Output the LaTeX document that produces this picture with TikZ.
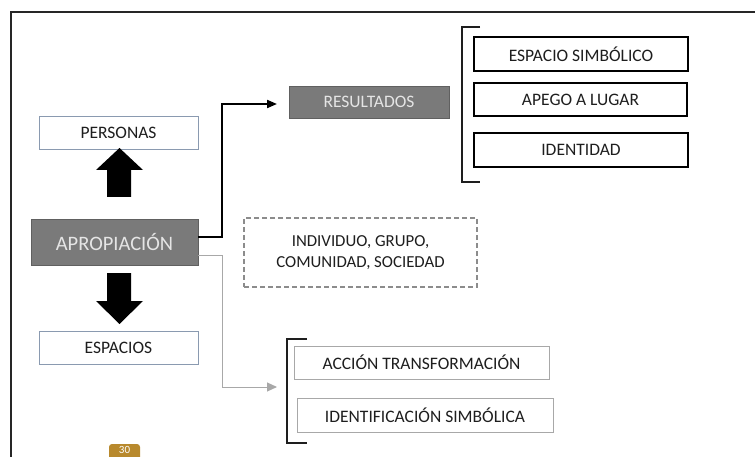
\documentclass[tikz,border=0pt]{standalone}
\usepackage{fontspec}
\setmainfont{Carlito}
\usetikzlibrary{arrows.meta,calc}
\definecolor{boxgray}{HTML}{7A7A7A}
\definecolor{boxgrayd}{HTML}{606060}
\definecolor{bluegray}{HTML}{8A9AB0}
\definecolor{lightgray}{HTML}{A8A8A8}
\definecolor{dashgray}{HTML}{8C8C8C}
\definecolor{txt}{HTML}{1E1E1E}
\definecolor{badge}{HTML}{B8892D}
\begin{document}
\begin{tikzpicture}[x=1pt,y=-1pt,
  every node/.style={inner sep=0pt,outer sep=0pt,text=txt,font=\fontsize{17.5}{21}\selectfont},
  bluebox/.style={draw=bluegray,line width=0.9pt,fill=white},
  graybox/.style={draw=boxgrayd,line width=0.8pt,fill=boxgray,text=white!90!black},
  blackbox/.style={draw=black,line width=1.6pt,fill=white},
  litebox/.style={draw=lightgray,line width=1pt,fill=white},
  dashbox/.style={draw=dashgray,line width=1.2pt,dash pattern=on 5pt off 3pt,align=center,font=\fontsize{16.8}{21}\selectfont},
  blockarrow/.style={fill=black},
  brk/.style={draw=txt,line width=1.2pt},
]
\useasboundingbox (0,0) rectangle (755,457);
\fill[white] (0,0) rectangle (755,457);
% frame
\draw[line width=1.6pt,color=black!85] (11,460) -- (11,12) -- (760,12);

% left column
\node[bluebox,minimum width=159pt,minimum height=33pt] (per) at (118.5,132.5) {PERSONAS};
\node[graybox,minimum width=167pt,minimum height=46pt,font=\fontsize{20.5}{24}\selectfont] (apro) at (114.5,242) {APROPIACIÓN};
\node[bluebox,minimum width=159pt,minimum height=33pt] (esp) at (118.5,347.5) {ESPACIOS};

% block arrows
\fill[blockarrow] (107,197) -- (107,170) -- (96,170) -- (119.5,148) -- (143,170) -- (131,170) -- (131,197) -- cycle;
\fill[blockarrow] (107,273) -- (107,301) -- (96,301) -- (119.5,324) -- (143,301) -- (131,301) -- (131,273) -- cycle;

% resultados group
\node[graybox,minimum width=160pt,minimum height=32pt] (res) at (369,102) {RESULTADOS};
\node[blackbox,minimum width=214pt,minimum height=34pt] (es) at (581,54) {ESPACIO SIMBÓLICO};
\node[blackbox,minimum width=213pt,minimum height=33pt] (al) at (580.5,99.5) {APEGO A LUGAR};
\node[blackbox,minimum width=214pt,minimum height=34pt] (id) at (581,150) {IDENTIDAD};
\draw[brk] (480,27) -- (462,27) -- (462,182) -- (480,182);

% dashed box
\node[dashbox,minimum width=233pt,minimum height=69pt] (ind) at (360.5,252.5) {INDIVIDUO, GRUPO,\\COMUNIDAD, SOCIEDAD};

% lower group
\node[litebox,minimum width=255pt,minimum height=33pt] (at) at (421.5,362.5) {ACCIÓN TRANSFORMACIÓN};
\node[litebox,minimum width=256pt,minimum height=34pt] (is) at (425,415) {IDENTIFICACIÓN SIMBÓLICA};
\draw[brk] (307,339) -- (287,339) -- (287,443) -- (307,443);

% connectors
\coordinate (b0) at ($(apro.east)+(0,-5)$);
\coordinate (g0) at ($(apro.east)+(0,13)$);
\coordinate (bend) at ($(res.west)+(-12,2)$);
\coordinate (gend) at (277,387);
\draw[line width=2pt,-{Triangle[length=10pt,width=8pt]}] (b0) -- (222,237) |- (bend);
\draw[line width=1pt,color=lightgray,-{Triangle[length=10pt,width=9pt]}] (g0) -- (222,255) |- (gend);

% page badge
\fill[badge,rounded corners=3pt] (109,444) rectangle (140,468);
\node[text=white,font=\fontsize{11}{12}\selectfont,anchor=north] (pg) at (124.5,446) {30};
\end{tikzpicture}
\end{document}
